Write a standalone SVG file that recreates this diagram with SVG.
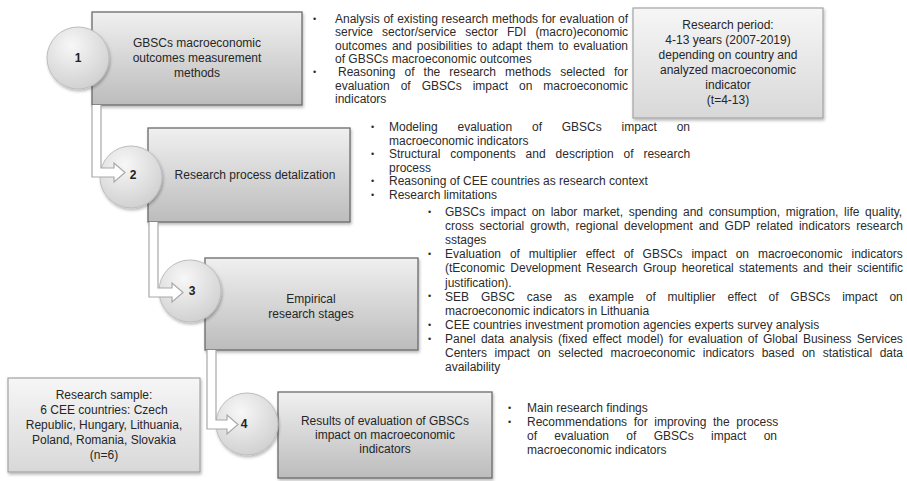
<svg xmlns="http://www.w3.org/2000/svg" width="907" height="481" viewBox="0 0 907 481">
  <style>
    .step { stroke: #6b6b6b; stroke-width: 1.3; fill: url(#stepFill); filter: url(#shadow); }
    .note { stroke: #a3a3a3; stroke-width: 1.2; fill: url(#noteFill); filter: url(#shadow); }
    .disc { stroke: #bdbdbd; stroke-width: 1; fill: url(#discFill); filter: url(#shadow); }
    .num { font: bold 12px "Liberation Sans", Arial, sans-serif; fill: #222; text-anchor: middle; }
    .label { font: 12px "Liberation Sans", Arial, sans-serif; fill: #262626; text-anchor: middle; }
    .body { font: 12px "Liberation Sans", Arial, sans-serif; fill: #2b2b2b; }
    .dot { font: 9px "Liberation Sans", Arial, sans-serif; fill: #2b2b2b; }
    .flow { fill: #ffffff; stroke: #a8a8a8; stroke-width: 1.2; stroke-linejoin: miter; }
  </style>
  <defs>
    <linearGradient id="stepFill" x1="0" y1="0" x2="0" y2="1">
      <stop offset="0" stop-color="#f0f0f0"/>
      <stop offset="1" stop-color="#bcbcbc"/>
    </linearGradient>
    <linearGradient id="noteFill" x1="0" y1="0" x2="0" y2="1">
      <stop offset="0" stop-color="#f6f6f6"/>
      <stop offset="1" stop-color="#d8d8d8"/>
    </linearGradient>
    <radialGradient id="discFill" cx="0.4" cy="0.3" r="0.75">
      <stop offset="0" stop-color="#f7f7f7"/>
      <stop offset="1" stop-color="#cfcfcf"/>
    </radialGradient>
    <filter id="shadow" x="-10%" y="-10%" width="125%" height="130%">
      <feDropShadow dx="1" dy="2" stdDeviation="1.5" flood-color="#000" flood-opacity="0.28"/>
    </filter>
  </defs>

  <!-- side notes -->
  <g id="period">
    <rect class="note" x="633" y="8" width="190" height="110"/>
    <text class="label" x="728" y="29">Research period:</text>
    <text class="label" x="728" y="44">4-13 years (2007-2019)</text>
    <text class="label" x="728" y="59">depending on country and</text>
    <text class="label" x="728" y="74">analyzed macroeconomic</text>
    <text class="label" x="728" y="89">indicator</text>
    <text class="label" x="728" y="104">(t=4-13)</text>
  </g>
  <g id="sample">
    <rect class="note" x="8" y="378" width="192" height="94"/>
    <text class="label" x="104" y="399">Research sample:</text>
    <text class="label" x="104" y="414">6 CEE countries: Czech</text>
    <text class="label" x="104" y="429">Republic, Hungary, Lithuania,</text>
    <text class="label" x="104" y="444">Poland, Romania, Slovakia</text>
    <text class="label" x="104" y="459">(n=6)</text>
  </g>

  <!-- step 1 -->
  <g id="step1">
    <rect class="step" x="92" y="12" width="210" height="93"/>
    <circle class="disc" cx="78" cy="58" r="31"/>
    <text class="num" x="78" y="62">1</text>
    <text class="label" x="197" y="47">GBSCs macroeconomic</text>
    <text class="label" x="197" y="62">outcomes measurement</text>
    <text class="label" x="197" y="77">methods</text>
  </g>
  <g id="notes1">
    <text class="dot" x="313" y="22">•</text>
    <text class="dot" x="313" y="75">•</text>
    <text class="body" x="335" y="23" style="word-spacing:0.41px">Analysis of existing research methods for evaluation of</text>
    <text class="body" x="335" y="36.3" style="word-spacing:5.75px">service sector/service sector FDI (macro)economic</text>
    <text class="body" x="335" y="49.7" style="word-spacing:1.55px">outcomes and posibilities to adapt them to evaluation</text>
    <text class="body" x="335" y="63">of GBSCs macroeconomic outcomes</text>
    <text class="body" x="338" y="76.3" style="word-spacing:5.75px">Reasoning of the research methods selected for</text>
    <text class="body" x="335" y="89.7" style="word-spacing:7.65px">evaluation of GBSCs impact on macroeconomic</text>
    <text class="body" x="335" y="103">indicators</text>
  </g>

  <!-- step 2 -->
  <g id="step2">
    <rect class="step" x="148" y="128" width="202" height="94"/>
    <circle class="disc" cx="131" cy="177" r="31"/>
    <text class="num" x="133" y="179">2</text>
    <text class="label" x="255" y="179">Research process detalization</text>
  </g>
  <g id="notes2">
    <text class="dot" x="371" y="130">•</text>
    <text class="dot" x="371" y="157">•</text>
    <text class="dot" x="371" y="184">•</text>
    <text class="dot" x="371" y="198">•</text>
    <text class="body" x="389" y="131" style="word-spacing:16.45px">Modeling evaluation of GBSCs impact on</text>
    <text class="body" x="389" y="144.6">macroeconomic indicators</text>
    <text class="body" x="389" y="158.2" style="word-spacing:6.6px">Structural components and description of research</text>
    <text class="body" x="389" y="171.8">process</text>
    <text class="body" x="389" y="185.4">Reasoning of CEE countries as research context</text>
    <text class="body" x="389" y="199">Research limitations</text>
  </g>

  <!-- step 3 -->
  <g id="step3">
    <rect class="step" x="205" y="258" width="213" height="92"/>
    <circle class="disc" cx="190" cy="291" r="31"/>
    <text class="num" x="192" y="295">3</text>
    <text class="label" x="311" y="303">Empirical</text>
    <text class="label" x="311" y="318">research stages</text>
  </g>
  <g id="notes3">
    <text class="dot" x="428" y="215">•</text>
    <text class="dot" x="428" y="257">•</text>
    <text class="dot" x="428" y="299">•</text>
    <text class="dot" x="428" y="328">•</text>
    <text class="dot" x="428" y="342">•</text>
    <text class="body" x="445" y="216" style="word-spacing:2.32px">GBSCs impact on labor market, spending and consumption, migration, life quality,</text>
    <text class="body" x="445" y="230.1" style="word-spacing:2.58px">cross sectorial growth, regional development and GDP related indicators research</text>
    <text class="body" x="445" y="244.2">sstages</text>
    <text class="body" x="445" y="258.3" style="word-spacing:5.54px">Evaluation of multiplier effect of GBSCs impact on macroeconomic indicators</text>
    <text class="body" x="445" y="272.4" style="word-spacing:1.98px">(tEconomic Development Research Group heoretical statements and their scientific</text>
    <text class="body" x="445" y="286.5">justification).</text>
    <text class="body" x="445" y="300.6" style="word-spacing:8.53px">SEB GBSC case as example of multiplier effect of GBSCs impact on</text>
    <text class="body" x="445" y="314.7">macroeconomic indicators in Lithuania</text>
    <text class="body" x="445" y="328.8">CEE countries investment promotion agencies experts survey analysis</text>
    <text class="body" x="445" y="342.9" style="word-spacing:1.86px">Panel data analysis (fixed effect model) for evaluation of Global Business Services</text>
    <text class="body" x="445" y="357" style="word-spacing:4.2px">Centers impact on selected macroeconomic indicators based on statistical data</text>
    <text class="body" x="445" y="371.1">availability</text>
  </g>

  <!-- step 4 -->
  <g id="step4">
    <rect class="step" x="278" y="392" width="214" height="86"/>
    <circle class="disc" cx="247" cy="424" r="31"/>
    <text class="num" x="244" y="428">4</text>
    <text class="label" x="385" y="425">Results of evaluation of GBSCs</text>
    <text class="label" x="385" y="439">impact on macroeconomic</text>
    <text class="label" x="385" y="453">indicators</text>
  </g>
  <g id="notes4">
    <text class="dot" x="508" y="411">•</text>
    <text class="dot" x="508" y="425">•</text>
    <text class="body" x="527" y="412">Main research findings</text>
    <text class="body" x="527" y="426" style="word-spacing:3.28px">Recommendations for improving the process</text>
    <text class="body" x="527" y="440" style="word-spacing:13.98px">of evaluation of GBSCs impact on</text>
    <text class="body" x="527" y="454">macroeconomic indicators</text>
  </g>

  <!-- bent block arrows between the steps -->
  <g id="connectors">
    <path class="flow" d="M92,105 L92,177 L114,177 L114,182 L125,172.5 L114,163 L114,168 L101,168 L101,105"/>
    <path class="flow" d="M149,222 L149,297 L172,297 L172,302 L183,292.5 L172,283 L172,288 L158,288 L158,222"/>
    <path class="flow" d="M207,350 L207,429 L227,429 L227,434 L238,424.5 L227,415 L227,420 L216,420 L216,350"/>
  </g>
</svg>
